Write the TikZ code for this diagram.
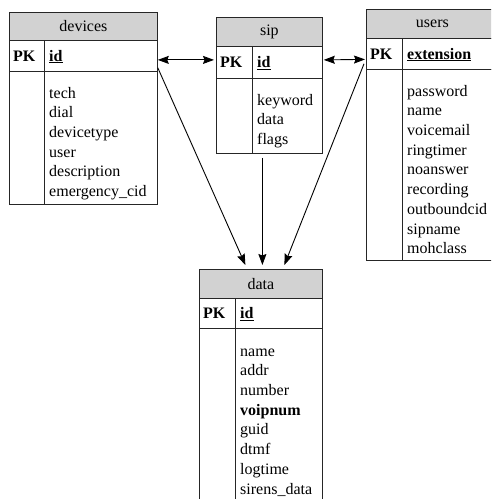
\documentclass[tikz,border=0pt]{standalone}
\usepackage{fontspec}
\setmainfont{Liberation Serif}
\usetikzlibrary{arrows.meta}
\begin{document}
\begin{tikzpicture}[x=1pt,y=-1pt,
  cell/.style={draw=black!85, line width=0.8pt, inner sep=0pt, anchor=north west},
  hdrcell/.style={cell, fill=gray!35, font=\fontsize{16}{19.7}\selectfont},
  txt/.style={inner sep=0pt, anchor=base west, font=\fontsize{16}{19.7}\selectfont},
  bodytxt/.style={inner sep=0pt, anchor=north west, align=left, font=\fontsize{16}{19.7}\selectfont},
  divider/.style={draw=black!85, line width=0.8pt},
  tipA/.tip={Stealth[length=11pt,width=8pt,inset=1.5pt]},
  arr/.style={-tipA, line width=0.9pt},
  darr/.style={tipA-tipA, line width=0.9pt}]
\useasboundingbox (0,0) rectangle (491,499);
\begin{scope}
\clip (0,0) rectangle (491,499);
% ---------- devices ----------
\node[hdrcell, minimum width=148pt, minimum height=28pt] (devH) at (9,12) {devices};
\node[cell, minimum width=148pt, minimum height=31pt] (devK) at (9,40) {};
\node[cell, minimum width=148pt, minimum height=133pt] (devB) at (9,71) {};
\draw[divider] ([xshift=35pt]devK.north west) -- ([xshift=35pt]devB.south west);
\node[txt] (devPK) at (13,61) {\textbf{PK}};
\node[txt] (devID) at (49,61) {\textbf{\underline{id}}};
\node[bodytxt] (devF) at (49,84.2) {\strut tech\\dial\\devicetype\\user\\description\\emergency\_cid};
% ---------- sip ----------
\node[hdrcell, minimum width=106pt, minimum height=29pt] (sipH) at (216,17) {sip};
\node[cell, minimum width=106pt, minimum height=32pt] (sipK) at (216,46) {};
\node[cell, minimum width=106pt, minimum height=75pt] (sipB) at (216,78) {};
\draw[divider] ([xshift=36pt]sipK.north west) -- ([xshift=36pt]sipB.south west);
\node[txt] (sipPK) at (220,67.5) {\textbf{PK}};
\node[txt] (sipID) at (257,67.5) {\textbf{\underline{id}}};
\node[bodytxt] (sipF) at (257,91.2) {\strut keyword\\data\\flags};
% ---------- users ----------
\node[hdrcell, minimum width=132pt, minimum height=29pt] (usrH) at (366,9) {users};
\node[cell, minimum width=132pt, minimum height=31pt] (usrK) at (366,38) {};
\node[cell, minimum width=132pt, minimum height=191pt] (usrB) at (366,69) {};
\draw[divider] ([xshift=36pt]usrK.north west) -- ([xshift=36pt]usrB.south west);
\node[txt] (usrPK) at (370,59) {\textbf{PK}};
\node[txt] (usrID) at (407,59) {\textbf{\underline{extension}}};
\node[bodytxt] (usrF) at (407,82.2) {\strut password\\name\\voicemail\\ringtimer\\noanswer\\recording\\outboundcid\\sipname\\mohclass};
% ---------- data ----------
\node[hdrcell, minimum width=123pt, minimum height=29pt] (datH) at (199,269) {data};
\node[cell, minimum width=123pt, minimum height=30pt] (datK) at (199,298) {};
\node[cell, minimum width=123pt, minimum height=190pt] (datB) at (199,328) {};
\draw[divider] ([xshift=36pt]datK.north west) -- ([xshift=36pt]datB.south west);
\node[txt] (datPK) at (203,318.5) {\textbf{PK}};
\node[txt] (datID) at (240,318.5) {\textbf{\underline{id}}};
\node[bodytxt] (datF) at (240,342.2) {\strut name\\addr\\number\\\textbf{voipnum}\\guid\\dtmf\\logtime\\sirens\_data};
\end{scope}
% ---------- connectors ----------
\coordinate (devOut) at ([yshift=-4pt]devK.east);
\coordinate (sipIn) at ([xshift=-2pt,yshift=2.5pt]sipK.west);
\coordinate (sipOut) at ([xshift=1pt,yshift=2.5pt]sipK.east);
\coordinate (usrIn) at ([xshift=-1pt,yshift=-5.5pt]usrK.west);
\draw[darr] (devOut) -- (sipIn);
\draw[darr] (sipOut) -- (usrIn);
\coordinate (devDown) at ([yshift=4pt]devK.south east);
\coordinate (sipDown) at ([xshift=-7pt,yshift=-4pt]sipB.south);
\coordinate (usrDown) at ([xshift=-2pt,yshift=6pt]usrK.south west);
\coordinate (datA) at ([xshift=-15.5pt,yshift=4pt]datH.north);
\coordinate (datBb) at ([xshift=1.5pt,yshift=4pt]datH.north);
\coordinate (datC) at ([xshift=23.5pt,yshift=4pt]datH.north);
\draw[arr] (devDown) -- (datA);
\draw[arr] (sipDown) -- (datBb);
\draw[arr] (usrDown) -- (datC);
\end{tikzpicture}
\end{document}
